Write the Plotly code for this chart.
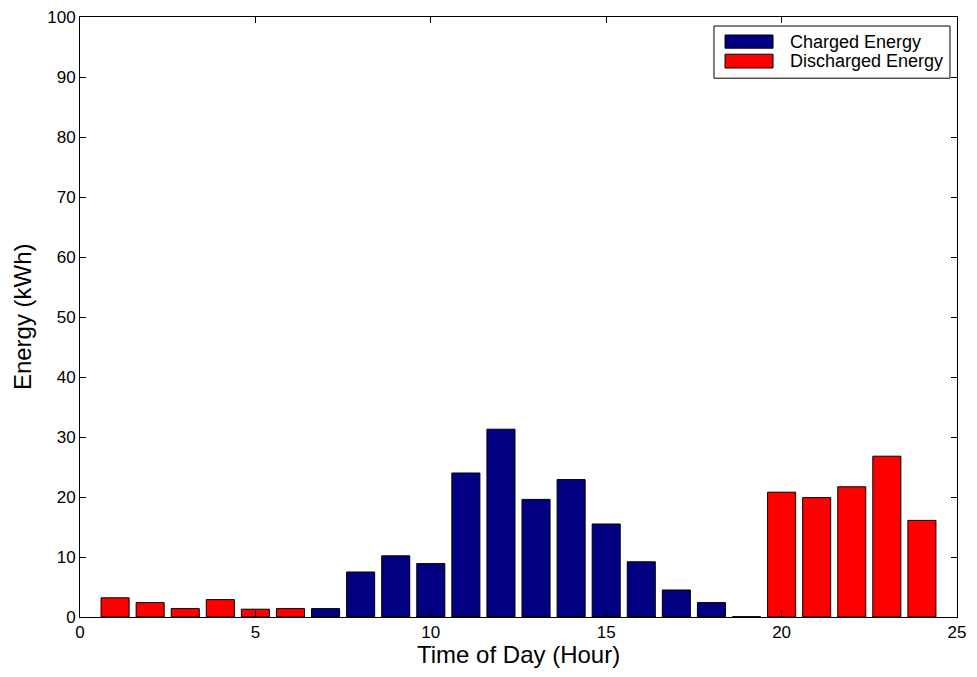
import plotly.graph_objects as go

hours = list(range(1, 25))
charged = [0, 0, 0, 0, 0, 0, 1.4, 7.5, 10.2, 8.9, 24.0, 31.3,
           19.6, 22.9, 15.5, 9.2, 4.5, 2.4, 0, 0, 0, 0, 0, 0]
discharged = [3.2, 2.4, 1.4, 2.9, 1.3, 1.4, 0, 0, 0, 0, 0, 0,
              0, 0, 0, 0, 0, 0, 0, 20.8, 19.9, 21.7, 26.8, 16.1]
x_ticks = [0, 5, 10, 15, 20, 25]
y_ticks = list(range(0, 101, 10))

series = [("Charged Energy", charged, "#000080"),
          ("Discharged Energy", discharged, "#FF0000")]

FONT = "Liberation Sans, Arial, Helvetica"

fig = go.Figure()
for name, values, color in series:
    fig.add_trace(go.Bar(x=hours, y=values, name=name, width=0.8, showlegend=False,
                         marker=dict(color=color, line=dict(color="black", width=1))))

axis_common = dict(showline=True, linecolor="black", linewidth=1, mirror="ticks",
                   ticks="inside", ticklen=6, tickcolor="black", showgrid=False,
                   zeroline=False, tickfont=dict(family=FONT, size=17, color="black"))

# boxed legend with wide colour swatches, in paper coordinates
shapes = [dict(type="rect", xref="paper", yref="paper", x0=0.7229, x1=0.992,
               y0=0.898, y1=0.985, line=dict(color="black", width=1), fillcolor="white",
               layer="above")]
annotations = []
rows = [(0.970, 0.948, 0.959), (0.938, 0.915, 0.9265)]
for (name, _, color), (ytop, ybot, ymid) in zip(series, rows):
    shapes.append(dict(type="rect", xref="paper", yref="paper", x0=0.7355, x1=0.7902,
                       y0=ybot, y1=ytop, line=dict(color="black", width=1),
                       fillcolor=color, layer="above"))
    annotations.append(dict(xref="paper", yref="paper", x=0.8075, y=ymid, text=name,
                            showarrow=False, xanchor="left", yanchor="middle",
                            font=dict(family=FONT, size=18, color="black")))

# axis titles placed close to the tick labels
annotations.append(dict(xref="paper", yref="paper", x=0.5, y=-0.062, text="Time of Day (Hour)",
                        showarrow=False, xanchor="center", yanchor="middle",
                        font=dict(family=FONT, size=24, color="black")))
annotations.append(dict(xref="paper", yref="paper", x=-0.066, y=0.5, text="Energy (kWh)",
                        showarrow=False, xanchor="center", yanchor="middle", textangle=-90,
                        font=dict(family=FONT, size=24, color="black")))

fig.update_layout(
    barmode="overlay",
    width=977, height=677,
    margin=dict(l=80, r=20, t=17, b=60, autoexpand=False),
    plot_bgcolor="white", paper_bgcolor="white",
    font=dict(family=FONT, color="black"),
    xaxis=dict(range=[0, 25], tickvals=x_ticks, **axis_common),
    yaxis=dict(range=[0, 100], tickvals=y_ticks, **axis_common),
    shapes=shapes,
    annotations=annotations,
    showlegend=False,
)

fig.write_html("out.html")
